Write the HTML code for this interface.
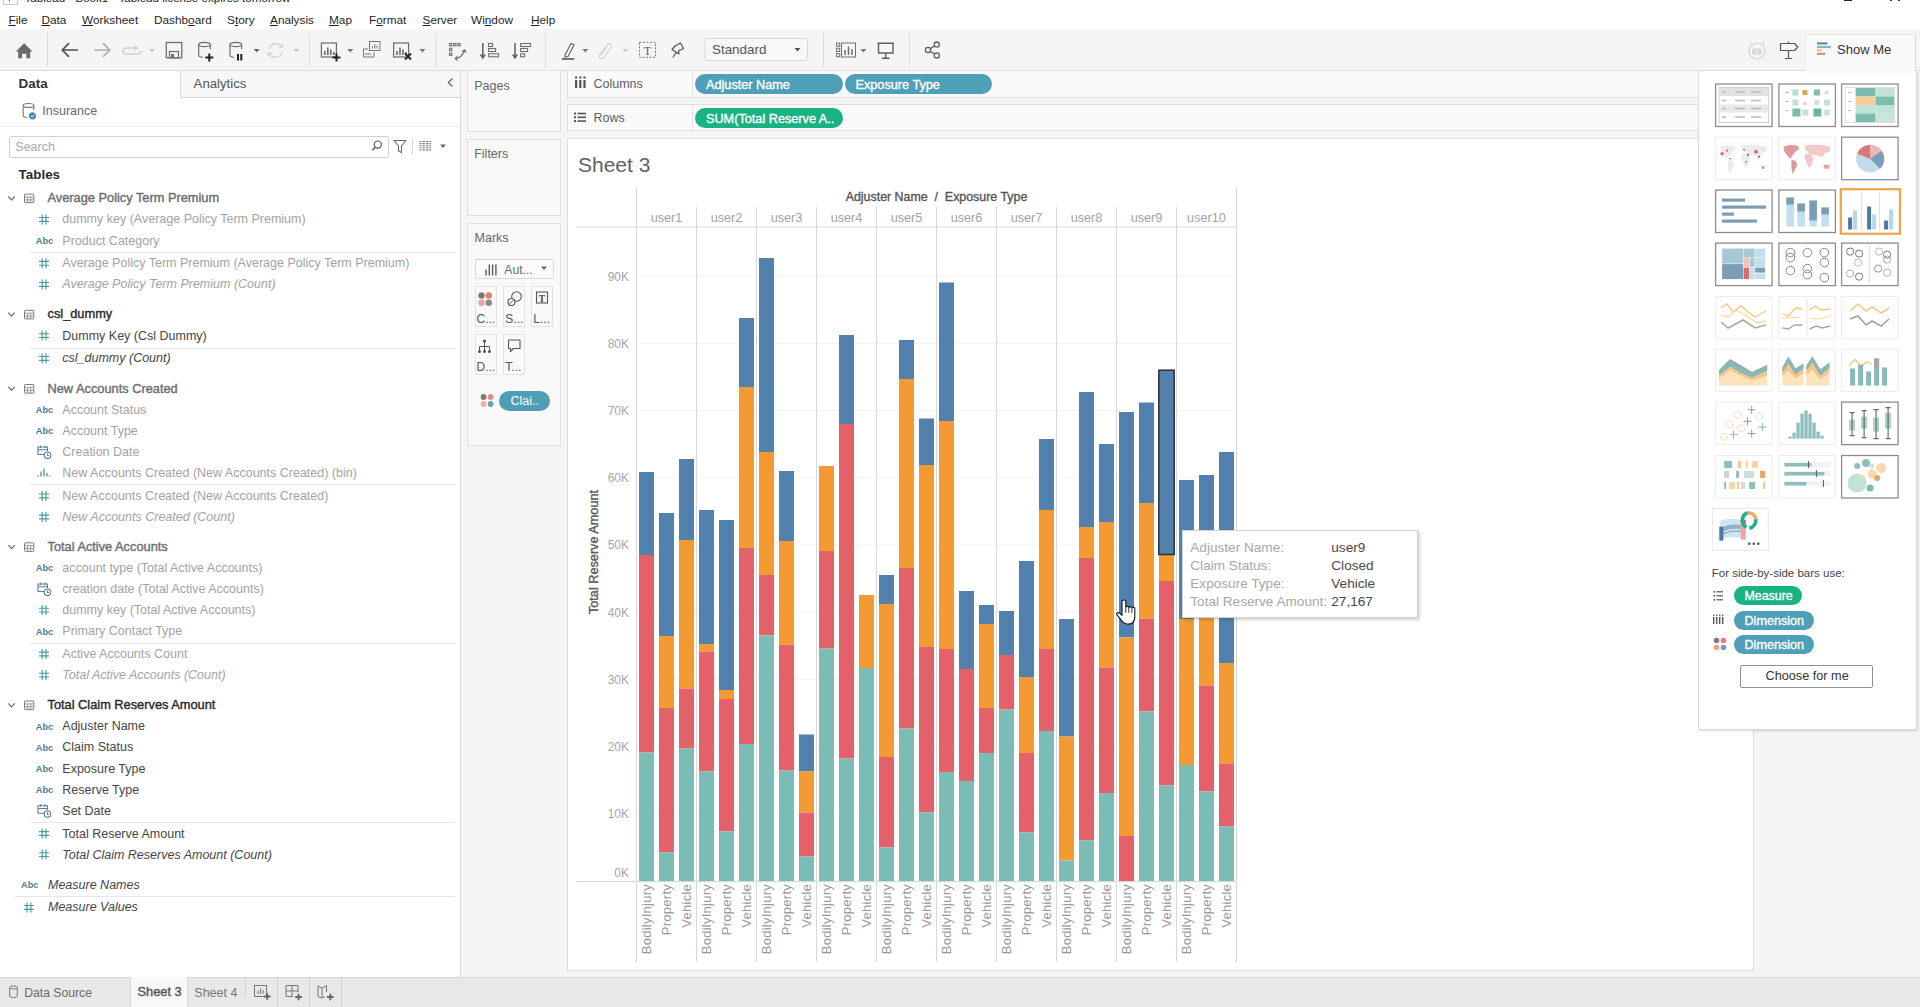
<!DOCTYPE html>
<html><head><meta charset="utf-8"><title>Tableau - Book1</title><style>
*{box-sizing:border-box;margin:0;padding:0}
html,body{width:1920px;height:1007px;overflow:hidden;background:#fff;font-family:"Liberation Sans", Arial, sans-serif;color:#333}
.a{position:absolute;white-space:nowrap}
.t{position:absolute;white-space:nowrap;line-height:1}
svg{position:absolute;overflow:visible}
u{text-decoration:underline;text-underline-offset:1px;text-decoration-thickness:1px}
</style></head>
<body>
<div class="a" style="left:0;top:0;width:1920px;height:29px;background:#fff"></div><div class="t" style="left:24.5px;top:-8.5px;font-size:11.6px;color:#222">Tableau - Book1 - Tableau license expires tomorrow</div><div class="a" style="left:3px;top:-2px;width:15px;height:7px;border:1px solid #c8c8c8;border-top:none"></div><div class="a" style="left:9px;top:0;width:1.2px;height:2px;background:#5a7fa8"></div><div class="a" style="left:1844px;top:0;width:8px;height:1px;background:#222"></div><div class="a" style="left:1890px;top:0;width:1.6px;height:1px;background:#333"></div><div class="a" style="left:1898.3px;top:0;width:1.6px;height:1px;background:#333"></div><div class="t" style="left:8.5px;top:14.7px;font-size:11.8px;color:#1f1f1f"><u>F</u>ile</div><div class="t" style="left:41.5px;top:14.7px;font-size:11.8px;color:#1f1f1f"><u>D</u>ata</div><div class="t" style="left:82px;top:14.7px;font-size:11.8px;color:#1f1f1f"><u>W</u>orksheet</div><div class="t" style="left:154px;top:14.7px;font-size:11.8px;color:#1f1f1f">Dashb<u>o</u>ard</div><div class="t" style="left:227px;top:14.7px;font-size:11.8px;color:#1f1f1f">S<u>t</u>ory</div><div class="t" style="left:270px;top:14.7px;font-size:11.8px;color:#1f1f1f"><u>A</u>nalysis</div><div class="t" style="left:329px;top:14.7px;font-size:11.8px;color:#1f1f1f"><u>M</u>ap</div><div class="t" style="left:369px;top:14.7px;font-size:11.8px;color:#1f1f1f">F<u>o</u>rmat</div><div class="t" style="left:422.5px;top:14.7px;font-size:11.8px;color:#1f1f1f"><u>S</u>erver</div><div class="t" style="left:471px;top:14.7px;font-size:11.8px;color:#1f1f1f">Wi<u>n</u>dow</div><div class="t" style="left:531px;top:14.7px;font-size:11.8px;color:#1f1f1f"><u>H</u>elp</div><div class="a" style="left:0;top:29px;width:1920px;height:42px;background:#f5f5f5;border-bottom:1px solid #dadada"></div><div class="a" style="left:1805px;top:34px;width:111px;height:38px;background:#fafafa;border-top:1px solid #e6e6e6;border-right:1px solid #d8d8d8;border-left:1px solid #ededed"></div><svg style="left:0;top:0" width="1920" height="80" viewBox="0 0 1920 80"><path d="M15.8 51.5 L24.2 43.3 L32.5 51.5 L30.2 51.5 L30.2 58.3 L26.3 58.3 L26.3 53.8 L22.1 53.8 L22.1 58.3 L18.2 58.3 L18.2 51.5 Z" fill="#6a6a6a"/><line x1="47.5" y1="33" x2="47.5" y2="67" stroke="#dcdcdc" stroke-width="1"/><path d="M62.5 50 L78 50 M69 43.2 L62.3 50 L69 56.8" fill="none" stroke="#505050" stroke-width="1.7"/><path d="M94 50 L109.5 50 M103 43.2 L109.7 50 L103 56.8" fill="none" stroke="#b0b0b0" stroke-width="1.7"/><path d="M134 45.5 L137.5 48 L134 50.5 M137 48 L126 48 Q123 48 123 51 Q123 54 126 54 L138 54 Q141 54 141 51" fill="none" stroke="#cfcfcf" stroke-width="1.3"/><path d="M149 49 L155 49 L152 52.5 Z" fill="#c8c8c8"/><rect x="166.3" y="42.5" width="15.5" height="15.3" fill="none" stroke="#6f6f6f" stroke-width="1.3"/><rect x="169.5" y="51.5" width="9" height="6.3" fill="none" stroke="#6f6f6f" stroke-width="1.2"/><rect x="171" y="54" width="3" height="3" fill="#6f6f6f"/><ellipse cx="204.5" cy="44.5" rx="5.8" ry="2.2" fill="none" stroke="#707070" stroke-width="1.2"/><path d="M198.7 44.5 L198.7 55 Q198.7 57 202.5 57.3 M210.3 44.5 L210.3 49" fill="none" stroke="#707070" stroke-width="1.2"/><path d="M205.3 57.5 L213.3 57.5 M209.3 53.5 L209.3 61.5" stroke="#222" stroke-width="2"/><ellipse cx="235.8" cy="44.5" rx="5.8" ry="2.2" fill="none" stroke="#707070" stroke-width="1.2"/><path d="M230.0 44.5 L230.0 55 Q230.0 57 233.8 57.3 M241.60000000000002 44.5 L241.60000000000002 49" fill="none" stroke="#707070" stroke-width="1.2"/><path d="M238 54 L238 60.5 M241.3 54 L241.3 60.5" stroke="#222" stroke-width="2"/><path d="M253.7 49 L259.7 49 L256.7 52.5 Z" fill="#666"/><path d="M269 49 A7 7 0 0 1 282 47.5 M282 47.5 L283.5 44 M282 47.5 L278.5 46.5 M282 51.5 A7 7 0 0 1 268.5 52.5 M268.5 52.5 L267.5 56 M268.5 52.5 L272 53.5" fill="none" stroke="#d0d0d0" stroke-width="1.3"/><path d="M293.3 49 L299.3 49 L296.3 52.5 Z" fill="#c8c8c8"/><line x1="309.7" y1="33" x2="309.7" y2="67" stroke="#dcdcdc" stroke-width="1"/><rect x="321.40000000000003" y="43" width="15" height="14" fill="none" stroke="#6a6a6a" stroke-width="1.2"/><path d="M324.8 55 L324.8 51 M327.8 55 L327.8 47.5 M330.8 55 L330.8 49.5 M333.8 55 L333.8 52" stroke="#6a6a6a" stroke-width="1.6"/><path d="M332.5 57.5 L340.5 57.5 M336.5 53.5 L336.5 61.5" stroke="#222" stroke-width="2"/><path d="M347.3 49 L353.3 49 L350.3 52.5 Z" fill="#777"/><rect x="369.5" y="41.5" width="10.5" height="9" fill="#f5f5f5" stroke="#777" stroke-width="1"/><path d="M372.5 48.5 L372.5 46 M374.8 48.5 L374.8 44 M377 48.5 L377 45.5" stroke="#777" stroke-width="1"/><path d="M368 49 L363.5 49 L363.5 57 L374 57 L374 52" fill="none" stroke="#777" stroke-width="1"/><path d="M366 55 L366 53 M368 55 L368 53 M370 55 L370 53" stroke="#777" stroke-width="1"/><rect x="393.6" y="43" width="15" height="14" fill="none" stroke="#6a6a6a" stroke-width="1.2"/><path d="M397 55 L397 51 M400 55 L400 47.5 M403 55 L403 49.5 M406 55 L406 52" stroke="#6a6a6a" stroke-width="1.6"/><path d="M405 53.5 L411 59.5 M411 53.5 L405 59.5" stroke="#222" stroke-width="1.9"/><path d="M419.5 49 L425.5 49 L422.5 52.5 Z" fill="#777"/><line x1="435.8" y1="33" x2="435.8" y2="67" stroke="#dcdcdc" stroke-width="1"/><g fill="none" stroke="#707070" stroke-width="1.1"><rect x="449.5" y="43.5" width="2.3" height="2.3"/><rect x="453.7" y="43.5" width="2.3" height="2.3"/><rect x="457.9" y="43.5" width="2.3" height="2.3"/><rect x="449.5" y="48.3" width="2.3" height="2.3"/><rect x="449.5" y="53.1" width="2.3" height="2.3"/></g><path d="M455 58.5 Q462 58 464.5 50.5 M462 51.5 L464.8 49.8 L466 52.8 M455 58.5 L457.5 56.5 M455 58.5 L457.5 60.5" fill="none" stroke="#707070" stroke-width="1.2"/><path d="M482.8 43 L482.8 57.5 M480.5 54.5 L482.8 58 L485.1 54.5" fill="none" stroke="#606060" stroke-width="1.5"/><g fill="none" stroke="#707070" stroke-width="1.1"><rect x="488.6" y="43.5" width="4" height="3"/><rect x="488.6" y="48.5" width="7" height="3"/><rect x="488.6" y="53.8" width="10" height="3"/></g><path d="M515 43 L515 57.5 M512.7 54.5 L515 58 L517.3 54.5" fill="none" stroke="#606060" stroke-width="1.5"/><g fill="none" stroke="#707070" stroke-width="1.1"><rect x="520.6" y="43.5" width="10" height="3"/><rect x="520.6" y="48.5" width="7" height="3"/><rect x="520.6" y="53.8" width="4" height="3"/></g><line x1="545.3" y1="33" x2="545.3" y2="67" stroke="#dcdcdc" stroke-width="1"/><path d="M565 55 L571 43.5 L574 45 L568 56.5 L565 57 Z" fill="none" stroke="#606060" stroke-width="1.1"/><path d="M561.8 59 L574.2 59" stroke="#555" stroke-width="1.6"/><path d="M582.3 49 L588.3 49 L585.3 52.5 Z" fill="#777"/><path d="M601 55 L607.5 45 Q609.5 42.5 611 44.5 Q612 46 610.5 48 L604 57.5 Q602 59.5 600 58 Q598.5 56.5 600 54.5 L605.5 47" fill="none" stroke="#d0d0d0" stroke-width="1.1"/><path d="M622.3 49 L628.3 49 L625.3 52.5 Z" fill="#cfcfcf"/><rect x="639.5" y="42.3" width="16" height="15" fill="none" stroke="#777" stroke-width="1" stroke-dasharray="2 1.5"/><text x="647.5" y="54.6" font-size="11.5" text-anchor="middle" fill="#555" font-family="Liberation Serif, serif">T</text><path d="M673 57.5 L676 52.5 M675 46 L680.5 43 L683.5 48.5 L678.5 51 L679 54 L672 49.5 L675 46 Z" fill="none" stroke="#555" stroke-width="1.2" stroke-linejoin="round"/><rect x="705" y="38.5" width="102.5" height="22" rx="2" fill="#f8f8f8" stroke="#d6d6d6" stroke-width="1"/><text x="712" y="54.3" font-size="13.4" fill="#555" font-family="Liberation Sans, Arial, sans-serif">Standard</text><path d="M794.5 48 L800.5 48 L797.5 51.5 Z" fill="#555"/><line x1="823.5" y1="33" x2="823.5" y2="67" stroke="#dcdcdc" stroke-width="1"/><g fill="none" stroke="#707070" stroke-width="1"><rect x="836.5" y="43" width="3.2" height="3.2"/><rect x="836.5" y="48.3" width="3.2" height="3.2"/><rect x="836.5" y="53.6" width="3.2" height="3.2"/><rect x="841.5" y="43" width="14" height="14"/></g><path d="M845 55 L845 50 M848.5 55 L848.5 46.5 M852 55 L852 49" stroke="#707070" stroke-width="1.5"/><path d="M860.4 49 L866.4 49 L863.4 52.5 Z" fill="#777"/><path d="M877.5 43.3 L894 43.3 M878.5 43.3 L878.5 53 L893 53 L893 43.3 M885.7 53 L885.7 58 M882 58.2 L889.5 58.2" fill="none" stroke="#606060" stroke-width="1.4"/><line x1="909.4" y1="33" x2="909.4" y2="67" stroke="#dcdcdc" stroke-width="1"/><g fill="none" stroke="#606060" stroke-width="1.3"><circle cx="928" cy="50" r="2.6"/><circle cx="936.8" cy="44.6" r="2.6"/><circle cx="936.8" cy="55.4" r="2.6"/><path d="M930.3 48.6 L934.5 46 M930.3 51.4 L934.5 54"/></g><g fill="none" stroke="#cfcfcf" stroke-width="1.1"><circle cx="1757" cy="51" r="8"/><path d="M1751 44 L1749.5 41.5 M1763 44 L1764.5 41.5"/><rect x="1752.5" y="49" width="9" height="5" rx="2.5"/><circle cx="1755" cy="51.5" r="1"/><circle cx="1759" cy="51.5" r="1"/></g><path d="M1788.5 41.5 L1788.5 58.5 M1785 58.5 L1792 58.5" fill="none" stroke="#555" stroke-width="1.2"/><path d="M1780.5 43.5 L1794.5 43.5 L1797.8 47 L1794.5 50.5 L1780.5 50.5 Z" fill="#f5f5f5" stroke="#555" stroke-width="1.2" stroke-linejoin="round"/><rect x="1817" y="42.3" width="10.5" height="2.2" fill="#808080"/><rect x="1817" y="45.9" width="14" height="2.2" fill="#7fb6d2"/><rect x="1817" y="49.4" width="4.5" height="1.8" fill="#f3a77a"/><rect x="1817" y="52.7" width="8" height="2.2" fill="#e48080"/></svg><div class="t" style="left:1837px;top:43px;font-size:13px;color:#333">Show Me</div><div class="a" style="left:461px;top:71px;width:1459px;height:906px;background:#f5f5f5"></div><div class="a" style="left:467px;top:70px;width:94px;height:62px;background:#f9f9f9;border:1px solid #e0e0e0"></div><div class="a" style="left:467px;top:138.5px;width:94px;height:77.5px;background:#f9f9f9;border:1px solid #e0e0e0"></div><div class="a" style="left:467px;top:222.5px;width:94px;height:223.5px;background:#f9f9f9;border:1px solid #e0e0e0"></div><div class="t" style="left:474.2px;top:80.00px;font-size:12.5px;color:#666;">Pages</div><div class="t" style="left:474.2px;top:148.20px;font-size:12.5px;color:#666;">Filters</div><div class="t" style="left:474.6px;top:232.20px;font-size:12.5px;color:#666;">Marks</div><div class="a" style="left:474.5px;top:258.5px;width:79px;height:20.5px;background:#fbfbfb;border:1px solid #d8d8d8;border-radius:2px"></div><div class="t" style="left:504.3px;top:264.36px;font-size:12.2px;color:#6a6a6a;">Aut...</div><div class="a" style="left:474.5px;top:286px;width:22px;height:41px;background:#fafafa;border:1px solid #e2e2e2"></div><div class="a" style="left:503.3px;top:286px;width:22px;height:41px;background:#fafafa;border:1px solid #e2e2e2"></div><div class="a" style="left:531.3px;top:286px;width:22px;height:41px;background:#fafafa;border:1px solid #e2e2e2"></div><div class="a" style="left:474.5px;top:334.3px;width:22px;height:41px;background:#fafafa;border:1px solid #e2e2e2"></div><div class="a" style="left:503.3px;top:334.3px;width:22px;height:41px;background:#fafafa;border:1px solid #e2e2e2"></div><div class="t" style="left:476.5px;top:313.46px;font-size:12px;color:#555;">C...</div><div class="t" style="left:505.3px;top:313.46px;font-size:12px;color:#555;">S...</div><div class="t" style="left:533.3px;top:313.46px;font-size:12px;color:#555;">L...</div><div class="t" style="left:476.5px;top:361.06px;font-size:12px;color:#555;">D...</div><div class="t" style="left:505.3px;top:361.06px;font-size:12px;color:#555;">T...</div><div class="a" style="left:499px;top:390.7px;width:50.6px;height:20.2px;border-radius:10px;background:#4f9eb5"></div><div class="t" style="left:510.5px;top:394.80px;font-size:12.5px;color:#fff;">Clai..</div><div class="a" style="left:567px;top:70px;width:1350px;height:28px;background:#fafafa;border:1px solid #dedede"></div><div class="a" style="left:567px;top:104px;width:1350px;height:27px;background:#fafafa;border:1px solid #dedede"></div><div class="a" style="left:692px;top:72px;width:1px;height:25px;background:#e2e2e2"></div><div class="a" style="left:692px;top:105px;width:1px;height:25px;background:#e2e2e2"></div><div class="t" style="left:593.5px;top:78.20px;font-size:12.5px;color:#606060;">Columns</div><div class="t" style="left:593.5px;top:112.00px;font-size:12.5px;color:#606060;">Rows</div><div class="a" style="left:695px;top:74px;width:147.5px;border-radius:10px;height:20px;background:#4f9fb8"></div><div class="a" style="left:845.3px;top:74px;width:147.2px;border-radius:10px;height:20px;background:#4f9fb8"></div><div class="a" style="left:695px;top:108.3px;width:147.5px;border-radius:10px;height:20px;background:#19b383"></div><div class="t" style="left:706px;top:78.60px;font-size:12.7px;color:#fff;-webkit-text-stroke:0.35px #fff">Adjuster Name</div><div class="t" style="left:855.5px;top:78.60px;font-size:12.7px;color:#fff;-webkit-text-stroke:0.35px #fff">Exposure Type</div><div class="t" style="left:706px;top:112.90px;font-size:12.7px;color:#fff;-webkit-text-stroke:0.35px #fff">SUM(Total Reserve A..</div><svg style="left:0;top:0" width="1920" height="500" viewBox="0 0 1920 500"><path d="M486 275.5 L486 269.5 M489.3 275.5 L489.3 264.5 M492.6 275.5 L492.6 264.5 M495.9 275.5 L495.9 264.5" stroke="#5a5a5a" stroke-width="1.4"/><path d="M541 266.5 L547 266.5 L544 270 Z" fill="#666"/><circle cx="481.5" cy="295.5" r="3.2" fill="#7a7a7a"/><circle cx="488.8" cy="295.5" r="3.2" fill="#e77b7b"/><circle cx="481.5" cy="302.8" r="3.2" fill="#f0a0a0"/><circle cx="488.8" cy="302.8" r="3.2" fill="#8a8a8a"/><circle cx="516.5" cy="296.5" r="4.8" fill="none" stroke="#555" stroke-width="1.1"/><circle cx="511.5" cy="302" r="3.5" fill="#fafafa" stroke="#555" stroke-width="1.1"/><path d="M509 304.5 L514 299.5" stroke="#555" stroke-width="1"/><rect x="536.5" y="292" width="11" height="11" fill="none" stroke="#555" stroke-width="1.1"/><text x="542" y="301.5" font-size="9.5" text-anchor="middle" fill="#444" font-family="Liberation Serif, serif" font-weight="bold">T</text><g fill="#555"><circle cx="484.5" cy="341" r="1.6"/><circle cx="479.5" cy="351.5" r="1.5"/><circle cx="484.5" cy="351.5" r="1.5"/><circle cx="489.5" cy="351.5" r="1.5"/></g><path d="M484.5 341 L484.5 351.5 M479.5 351.5 L479.5 346.5 L489.5 346.5 L489.5 351.5" fill="none" stroke="#555" stroke-width="1"/><path d="M508.5 340 L520 340 L520 348.5 L513.5 348.5 L510.5 351.5 L510.5 348.5 L508.5 348.5 Z" fill="none" stroke="#555" stroke-width="1.1" stroke-linejoin="round"/><circle cx="483.6" cy="397" r="2.9" fill="#7d7d7d"/><circle cx="490.6" cy="397" r="2.9" fill="#e98b8b"/><circle cx="483.6" cy="404" r="2.9" fill="#f2b0a0"/><circle cx="490.6" cy="404" r="2.9" fill="#6fa0c0"/><g fill="#555"><rect x="575" y="80" width="2.2" height="8"/><rect x="579.2" y="80" width="2.2" height="8"/><rect x="583.4" y="80" width="2.2" height="8"/><rect x="575" y="76.5" width="2.2" height="2"/><rect x="579.2" y="76.5" width="2.2" height="2"/><rect x="583.4" y="76.5" width="2.2" height="2"/></g><g fill="#555"><rect x="574" y="112.5" width="2" height="2"/><rect x="574" y="116.3" width="2" height="2"/><rect x="574" y="120.1" width="2" height="2"/><rect x="577.5" y="112.7" width="8.5" height="1.6"/><rect x="577.5" y="116.5" width="8.5" height="1.6"/><rect x="577.5" y="120.3" width="8.5" height="1.6"/></g></svg><div class="a" style="left:0;top:71px;width:461px;height:906px;background:#fff;border-right:1px solid #d9d9d9"></div><div class="a" style="left:180px;top:71px;width:280px;height:26.5px;background:#f7f7f7;border-left:1px solid #dadada;border-bottom:1px solid #dadada"></div><div class="t" style="left:18.6px;top:77.03px;font-size:13.4px;color:#333;font-weight:bold">Data</div><div class="t" style="left:193.6px;top:77.14px;font-size:13.2px;color:#555;">Analytics</div><div class="a" style="left:0;top:126px;width:460px;height:1px;background:#ececec"></div><div class="t" style="left:42.3px;top:105.20px;font-size:12.5px;color:#6a6a6a;">Insurance</div><div class="a" style="left:8.5px;top:136px;width:380px;height:22px;border:1px solid #d0d0d0;border-radius:2px;background:#fff"></div><div class="t" style="left:15.3px;top:141.00px;font-size:12.5px;color:#aaa;">Search</div><div class="t" style="left:18.6px;top:168.23px;font-size:13.4px;color:#2b2b2b;font-weight:bold">Tables</div><div class="t" style="left:47.5px;top:192.14px;font-size:12.8px;color:#6e6e6e;-webkit-text-stroke:0.4px #6e6e6e">Average Policy Term Premium</div><div class="t" style="left:62.3px;top:213.40px;font-size:12.5px;color:#a3a3a3;">dummy key (Average Policy Term Premium)</div><div class="t" style="left:62.3px;top:234.50px;font-size:12.5px;color:#a3a3a3;">Product Category</div><div class="a" style="left:30px;top:251.6px;width:425px;height:1px;background:#e6e6e6"></div><div class="t" style="left:62.3px;top:257.30px;font-size:12.5px;color:#a3a3a3;">Average Policy Term Premium (Average Policy Term Premium)</div><div class="t" style="left:62.3px;top:278.40px;font-size:12.5px;color:#a3a3a3;font-style:italic">Average Policy Term Premium (Count)</div><div class="t" style="left:47.5px;top:308.34px;font-size:12.8px;color:#2b2b2b;-webkit-text-stroke:0.4px #2b2b2b">csl_dummy</div><div class="t" style="left:62.3px;top:329.60px;font-size:12.5px;color:#454545;">Dummy Key (Csl Dummy)</div><div class="a" style="left:30px;top:347.6px;width:425px;height:1px;background:#e6e6e6"></div><div class="t" style="left:62.3px;top:352.40px;font-size:12.5px;color:#454545;font-style:italic">csl_dummy (Count)</div><div class="t" style="left:47.5px;top:382.54px;font-size:12.8px;color:#6e6e6e;-webkit-text-stroke:0.4px #6e6e6e">New Accounts Created</div><div class="t" style="left:62.3px;top:403.80px;font-size:12.5px;color:#a3a3a3;">Account Status</div><div class="t" style="left:62.3px;top:424.90px;font-size:12.5px;color:#a3a3a3;">Account Type</div><div class="t" style="left:62.3px;top:446.00px;font-size:12.5px;color:#a3a3a3;">Creation Date</div><div class="t" style="left:62.3px;top:466.60px;font-size:12.5px;color:#a3a3a3;">New Accounts Created (New Accounts Created) (bin)</div><div class="a" style="left:30px;top:484.2px;width:425px;height:1px;background:#e6e6e6"></div><div class="t" style="left:62.3px;top:489.90px;font-size:12.5px;color:#a3a3a3;">New Accounts Created (New Accounts Created)</div><div class="t" style="left:62.3px;top:511.00px;font-size:12.5px;color:#a3a3a3;font-style:italic">New Accounts Created (Count)</div><div class="t" style="left:47.5px;top:540.84px;font-size:12.8px;color:#6e6e6e;-webkit-text-stroke:0.4px #6e6e6e">Total Active Accounts</div><div class="t" style="left:62.3px;top:561.90px;font-size:12.5px;color:#a3a3a3;">account type (Total Active Accounts)</div><div class="t" style="left:62.3px;top:583.00px;font-size:12.5px;color:#a3a3a3;">creation date (Total Active Accounts)</div><div class="t" style="left:62.3px;top:604.10px;font-size:12.5px;color:#a3a3a3;">dummy key (Total Active Accounts)</div><div class="t" style="left:62.3px;top:625.20px;font-size:12.5px;color:#a3a3a3;">Primary Contact Type</div><div class="a" style="left:30px;top:642.5px;width:425px;height:1px;background:#e6e6e6"></div><div class="t" style="left:62.3px;top:648.00px;font-size:12.5px;color:#a3a3a3;">Active Accounts Count</div><div class="t" style="left:62.3px;top:669.10px;font-size:12.5px;color:#a3a3a3;font-style:italic">Total Active Accounts (Count)</div><div class="t" style="left:47.5px;top:699.04px;font-size:12.8px;color:#2b2b2b;-webkit-text-stroke:0.4px #2b2b2b">Total Claim Reserves Amount</div><div class="t" style="left:62.3px;top:720.30px;font-size:12.5px;color:#454545;">Adjuster Name</div><div class="t" style="left:62.3px;top:741.40px;font-size:12.5px;color:#454545;">Claim Status</div><div class="t" style="left:62.3px;top:762.50px;font-size:12.5px;color:#454545;">Exposure Type</div><div class="t" style="left:62.3px;top:783.60px;font-size:12.5px;color:#454545;">Reserve Type</div><div class="t" style="left:62.3px;top:804.70px;font-size:12.5px;color:#454545;">Set Date</div><div class="a" style="left:30px;top:822.3px;width:425px;height:1px;background:#e6e6e6"></div><div class="t" style="left:62.3px;top:827.50px;font-size:12.5px;color:#454545;">Total Reserve Amount</div><div class="t" style="left:62.3px;top:848.60px;font-size:12.5px;color:#454545;font-style:italic">Total Claim Reserves Amount (Count)</div><div class="t" style="left:48px;top:878.70px;font-size:12.5px;color:#454545;font-style:italic">Measure Names</div><div class="a" style="left:15px;top:896px;width:440px;height:1px;background:#e6e6e6"></div><div class="t" style="left:48px;top:901.40px;font-size:12.5px;color:#454545;font-style:italic">Measure Values</div><svg style="left:0;top:0" width="470" height="1000" viewBox="0 0 470 1000"><g fill="none" stroke="#777" stroke-width="1.1"><ellipse cx="28.5" cy="105.5" rx="5.3" ry="2"/><path d="M23.2 105.5 L23.2 115.5 Q23.2 117.3 27 117.5 M33.8 105.5 L33.8 110"/></g><circle cx="32.5" cy="115.8" r="3.6" fill="#4a8ab5"/><path d="M30.8 115.8 L32.1 117.1 L34.3 114.6" fill="none" stroke="#fff" stroke-width="1"/><path d="M452.5 78.5 L448.3 82.5 L452.5 86.5" fill="none" stroke="#666" stroke-width="1.3"/><circle cx="377.8" cy="144.6" r="3.6" fill="none" stroke="#555" stroke-width="1.2"/><path d="M375.2 147.2 L372.3 150.2" stroke="#555" stroke-width="1.4"/><path d="M394 140.5 L406 140.5 L401.5 146 L401.5 152.5 L398.5 151 L398.5 146 Z" fill="none" stroke="#666" stroke-width="1.1" stroke-linejoin="round"/><line x1="412.5" y1="138.5" x2="412.5" y2="154" stroke="#d8d8d8"/><g stroke="#777" stroke-width="1.1"><path d="M419.5 141.5 L421.3 141.5 M422.4 141.5 L424.9 141.5 M426 141.5 L428.4 141.5 M429.4 141.5 L431 141.5"/><path d="M419.5 143.6 L421.3 143.6 M422.4 143.6 L424.9 143.6 M426 143.6 L428.4 143.6 M429.4 143.6 L431 143.6"/><path d="M419.5 145.7 L421.3 145.7 M422.4 145.7 L424.9 145.7 M426 145.7 L428.4 145.7 M429.4 145.7 L431 145.7"/><path d="M419.5 147.8 L421.3 147.8 M422.4 147.8 L424.9 147.8 M426 147.8 L428.4 147.8 M429.4 147.8 L431 147.8"/><path d="M419.5 149.9 L421.3 149.9 M422.4 149.9 L424.9 149.9 M426 149.9 L428.4 149.9 M429.4 149.9 L431 149.9"/></g><path d="M440 144.5 L446 144.5 L443 148 Z" fill="#666"/><path d="M8.3 196.5 L11.5 199.9 L14.7 196.5" fill="none" stroke="#6a6a6a" stroke-width="1.2"/><g fill="none" stroke="#7a7a7a" stroke-width="1"><rect x="24.5" y="194.10000000000002" width="9.3" height="8.6" rx="0.8"/><path d="M24.5 197.0 L33.8 197.0 M24.5 199.9 L33.8 199.9 M27.6 197.0 L27.6 202.70000000000002 M30.7 197.0 L30.7 202.70000000000002" stroke="#999"/></g><path d="M42.2 214.4 L42.2 224.4 M46 214.4 L46 224.4 M39 217.5 L49 217.5 M39 221.3 L49 221.3" stroke="#4a9c9c" stroke-width="1.15"/><text x="35.8" y="243.8" font-size="9.2" font-weight="bold" fill="#4d7c98" font-family="Liberation Sans, Arial, sans-serif">Abc</text><path d="M42.2 258.3 L42.2 268.3 M46 258.3 L46 268.3 M39 261.40000000000003 L49 261.40000000000003 M39 265.2 L49 265.2" stroke="#4a9c9c" stroke-width="1.15"/><path d="M42.2 279.4 L42.2 289.4 M46 279.4 L46 289.4 M39 282.5 L49 282.5 M39 286.29999999999995 L49 286.29999999999995" stroke="#4a9c9c" stroke-width="1.15"/><path d="M8.3 312.7 L11.5 316.1 L14.7 312.7" fill="none" stroke="#6a6a6a" stroke-width="1.2"/><g fill="none" stroke="#7a7a7a" stroke-width="1"><rect x="24.5" y="310.3" width="9.3" height="8.6" rx="0.8"/><path d="M24.5 313.2 L33.8 313.2 M24.5 316.1 L33.8 316.1 M27.6 313.2 L27.6 318.9 M30.7 313.2 L30.7 318.9" stroke="#999"/></g><path d="M42.2 330.6 L42.2 340.6 M46 330.6 L46 340.6 M39 333.70000000000005 L49 333.70000000000005 M39 337.5 L49 337.5" stroke="#4a9c9c" stroke-width="1.15"/><path d="M42.2 353.4 L42.2 363.4 M46 353.4 L46 363.4 M39 356.5 L49 356.5 M39 360.29999999999995 L49 360.29999999999995" stroke="#4a9c9c" stroke-width="1.15"/><path d="M8.3 386.9 L11.5 390.3 L14.7 386.9" fill="none" stroke="#6a6a6a" stroke-width="1.2"/><g fill="none" stroke="#7a7a7a" stroke-width="1"><rect x="24.5" y="384.5" width="9.3" height="8.6" rx="0.8"/><path d="M24.5 387.4 L33.8 387.4 M24.5 390.3 L33.8 390.3 M27.6 387.4 L27.6 393.09999999999997 M30.7 387.4 L30.7 393.09999999999997" stroke="#999"/></g><text x="35.8" y="413.1" font-size="9.2" font-weight="bold" fill="#4d7c98" font-family="Liberation Sans, Arial, sans-serif">Abc</text><text x="35.8" y="434.2" font-size="9.2" font-weight="bold" fill="#4d7c98" font-family="Liberation Sans, Arial, sans-serif">Abc</text><g fill="none" stroke="#5a7f92" stroke-width="1.1"><path d="M46.5 454.5 L38.0 454.5 L38.0 447 L47.5 447 L47.5 451 M38.0 449.8 L47.5 449.8 M40.5 445.5 L40.5 448 M45.0 445.5 L45.0 448"/><circle cx="47.5" cy="455.3" r="3.3" fill="#fff"/><path d="M47.5 453.5 L47.5 455.5 L49.0 455.5"/></g><path d="M38.0 476.6 L38.0 475.1 M41.0 476.6 L41.0 471.6 M44.0 476.6 L44.0 468.6 M47.0 476.6 L47.0 473.1 M49.5 476.6 L49.5 475.6" stroke="#5a8aa5" stroke-width="1.3"/><path d="M42.2 490.9 L42.2 500.9 M46 490.9 L46 500.9 M39 494.0 L49 494.0 M39 497.79999999999995 L49 497.79999999999995" stroke="#4a9c9c" stroke-width="1.15"/><path d="M42.2 512 L42.2 522 M46 512 L46 522 M39 515.1 L49 515.1 M39 518.9 L49 518.9" stroke="#4a9c9c" stroke-width="1.15"/><path d="M8.3 545.2 L11.5 548.6 L14.7 545.2" fill="none" stroke="#6a6a6a" stroke-width="1.2"/><g fill="none" stroke="#7a7a7a" stroke-width="1"><rect x="24.5" y="542.8" width="9.3" height="8.6" rx="0.8"/><path d="M24.5 545.7 L33.8 545.7 M24.5 548.6 L33.8 548.6 M27.6 545.7 L27.6 551.4 M30.7 545.7 L30.7 551.4" stroke="#999"/></g><text x="35.8" y="571.1999999999999" font-size="9.2" font-weight="bold" fill="#4d7c98" font-family="Liberation Sans, Arial, sans-serif">Abc</text><g fill="none" stroke="#5a7f92" stroke-width="1.1"><path d="M46.5 591.5 L38.0 591.5 L38.0 584 L47.5 584 L47.5 588 M38.0 586.8 L47.5 586.8 M40.5 582.5 L40.5 585 M45.0 582.5 L45.0 585"/><circle cx="47.5" cy="592.3" r="3.3" fill="#fff"/><path d="M47.5 590.5 L47.5 592.5 L49.0 592.5"/></g><path d="M42.2 605.1 L42.2 615.1 M46 605.1 L46 615.1 M39 608.2 L49 608.2 M39 612.0 L49 612.0" stroke="#4a9c9c" stroke-width="1.15"/><text x="35.8" y="634.5" font-size="9.2" font-weight="bold" fill="#4d7c98" font-family="Liberation Sans, Arial, sans-serif">Abc</text><path d="M42.2 649 L42.2 659 M46 649 L46 659 M39 652.1 L49 652.1 M39 655.9 L49 655.9" stroke="#4a9c9c" stroke-width="1.15"/><path d="M42.2 670.1 L42.2 680.1 M46 670.1 L46 680.1 M39 673.2 L49 673.2 M39 677.0 L49 677.0" stroke="#4a9c9c" stroke-width="1.15"/><path d="M8.3 703.4000000000001 L11.5 706.8000000000001 L14.7 703.4000000000001" fill="none" stroke="#6a6a6a" stroke-width="1.2"/><g fill="none" stroke="#7a7a7a" stroke-width="1"><rect x="24.5" y="701.0" width="9.3" height="8.6" rx="0.8"/><path d="M24.5 703.9000000000001 L33.8 703.9000000000001 M24.5 706.8000000000001 L33.8 706.8000000000001 M27.6 703.9000000000001 L27.6 709.6 M30.7 703.9000000000001 L30.7 709.6" stroke="#999"/></g><text x="35.8" y="729.5999999999999" font-size="9.2" font-weight="bold" fill="#4d7c98" font-family="Liberation Sans, Arial, sans-serif">Abc</text><text x="35.8" y="750.6999999999999" font-size="9.2" font-weight="bold" fill="#4d7c98" font-family="Liberation Sans, Arial, sans-serif">Abc</text><text x="35.8" y="771.8" font-size="9.2" font-weight="bold" fill="#4d7c98" font-family="Liberation Sans, Arial, sans-serif">Abc</text><text x="35.8" y="792.9" font-size="9.2" font-weight="bold" fill="#4d7c98" font-family="Liberation Sans, Arial, sans-serif">Abc</text><g fill="none" stroke="#5a7f92" stroke-width="1.1"><path d="M46.5 813.2 L38.0 813.2 L38.0 805.7 L47.5 805.7 L47.5 809.7 M38.0 808.5 L47.5 808.5 M40.5 804.2 L40.5 806.7 M45.0 804.2 L45.0 806.7"/><circle cx="47.5" cy="814.0" r="3.3" fill="#fff"/><path d="M47.5 812.2 L47.5 814.2 L49.0 814.2"/></g><path d="M42.2 828.5 L42.2 838.5 M46 828.5 L46 838.5 M39 831.6 L49 831.6 M39 835.4 L49 835.4" stroke="#4a9c9c" stroke-width="1.15"/><path d="M42.2 849.6 L42.2 859.6 M46 849.6 L46 859.6 M39 852.7 L49 852.7 M39 856.5 L49 856.5" stroke="#4a9c9c" stroke-width="1.15"/><text x="21" y="888.0" font-size="9.2" font-weight="bold" fill="#4d7c98" font-family="Liberation Sans, Arial, sans-serif">Abc</text><path d="M27.0 902.4 L27.0 912.4 M30.8 902.4 L30.8 912.4 M23.8 905.5 L33.8 905.5 M23.8 909.3 L33.8 909.3" stroke="#4a9c9c" stroke-width="1.15"/></svg><div class="a" style="left:567px;top:138px;width:1187px;height:832.5px;background:#fff;border:1px solid #dcdcdc"></div><div class="t" style="left:578px;top:154.08px;font-size:21px;color:#626262;">Sheet 3</div><svg style="left:0;top:0" width="1920" height="1007" viewBox="0 0 1920 1007"><line x1="637" y1="813.8" x2="1236" y2="813.8" stroke="#f3f3f3" stroke-width="1"/><line x1="637" y1="746.6" x2="1236" y2="746.6" stroke="#f3f3f3" stroke-width="1"/><line x1="637" y1="679.4" x2="1236" y2="679.4" stroke="#f3f3f3" stroke-width="1"/><line x1="637" y1="612.2" x2="1236" y2="612.2" stroke="#f3f3f3" stroke-width="1"/><line x1="637" y1="545.0" x2="1236" y2="545.0" stroke="#f3f3f3" stroke-width="1"/><line x1="637" y1="477.8" x2="1236" y2="477.8" stroke="#f3f3f3" stroke-width="1"/><line x1="637" y1="410.6" x2="1236" y2="410.6" stroke="#f3f3f3" stroke-width="1"/><line x1="637" y1="343.4" x2="1236" y2="343.4" stroke="#f3f3f3" stroke-width="1"/><line x1="637" y1="276.2" x2="1236" y2="276.2" stroke="#f3f3f3" stroke-width="1"/><rect x="639" y="472" width="15" height="83.0" fill="#5281ae"/><rect x="639" y="555" width="15" height="197.5" fill="#e4616a"/><rect x="639" y="752.5" width="15" height="128.5" fill="#7bbdb6"/><rect x="659" y="513" width="15" height="123.0" fill="#5281ae"/><rect x="659" y="636" width="15" height="72.0" fill="#f39a33"/><rect x="659" y="708" width="15" height="144.5" fill="#e4616a"/><rect x="659" y="852.5" width="15" height="28.5" fill="#7bbdb6"/><rect x="679" y="459" width="15" height="81.0" fill="#5281ae"/><rect x="679" y="540" width="15" height="148.5" fill="#f39a33"/><rect x="679" y="688.5" width="15" height="60.0" fill="#e4616a"/><rect x="679" y="748.5" width="15" height="132.5" fill="#7bbdb6"/><rect x="699" y="510" width="15" height="134.0" fill="#5281ae"/><rect x="699" y="644" width="15" height="7.5" fill="#f39a33"/><rect x="699" y="651.5" width="15" height="120.0" fill="#e4616a"/><rect x="699" y="771.5" width="15" height="109.5" fill="#7bbdb6"/><rect x="719" y="520" width="15" height="170.0" fill="#5281ae"/><rect x="719" y="690" width="15" height="9.0" fill="#f39a33"/><rect x="719" y="699" width="15" height="132.5" fill="#e4616a"/><rect x="719" y="831.5" width="15" height="49.5" fill="#7bbdb6"/><rect x="739" y="318" width="15" height="69.0" fill="#5281ae"/><rect x="739" y="387" width="15" height="161.0" fill="#f39a33"/><rect x="739" y="548" width="15" height="196.0" fill="#e4616a"/><rect x="739" y="744" width="15" height="137.0" fill="#7bbdb6"/><rect x="759" y="258" width="15" height="194.0" fill="#5281ae"/><rect x="759" y="452" width="15" height="123.0" fill="#f39a33"/><rect x="759" y="575" width="15" height="60.5" fill="#e4616a"/><rect x="759" y="635.5" width="15" height="245.5" fill="#7bbdb6"/><rect x="779" y="471" width="15" height="70.0" fill="#5281ae"/><rect x="779" y="541" width="15" height="103.5" fill="#f39a33"/><rect x="779" y="644.5" width="15" height="126.0" fill="#e4616a"/><rect x="779" y="770.5" width="15" height="110.5" fill="#7bbdb6"/><rect x="799" y="734.5" width="15" height="37.0" fill="#5281ae"/><rect x="799" y="771.5" width="15" height="41.0" fill="#f39a33"/><rect x="799" y="812.5" width="15" height="44.0" fill="#e4616a"/><rect x="799" y="856.5" width="15" height="24.5" fill="#7bbdb6"/><rect x="819" y="466" width="15" height="85.0" fill="#f39a33"/><rect x="819" y="551" width="15" height="97.5" fill="#e4616a"/><rect x="819" y="648.5" width="15" height="232.5" fill="#7bbdb6"/><rect x="839" y="335" width="15" height="89.0" fill="#5281ae"/><rect x="839" y="424" width="15" height="334.5" fill="#e4616a"/><rect x="839" y="758.5" width="15" height="122.5" fill="#7bbdb6"/><rect x="859" y="595" width="15" height="73.0" fill="#f39a33"/><rect x="859" y="668" width="15" height="213.0" fill="#7bbdb6"/><rect x="879" y="575" width="15" height="29.0" fill="#5281ae"/><rect x="879" y="604" width="15" height="153.0" fill="#f39a33"/><rect x="879" y="757" width="15" height="90.5" fill="#e4616a"/><rect x="879" y="847.5" width="15" height="33.5" fill="#7bbdb6"/><rect x="899" y="340" width="15" height="39.0" fill="#5281ae"/><rect x="899" y="379" width="15" height="189.0" fill="#f39a33"/><rect x="899" y="568" width="15" height="160.5" fill="#e4616a"/><rect x="899" y="728.5" width="15" height="152.5" fill="#7bbdb6"/><rect x="919" y="418.5" width="15" height="46.5" fill="#5281ae"/><rect x="919" y="465" width="15" height="182.0" fill="#f39a33"/><rect x="919" y="647" width="15" height="165.5" fill="#e4616a"/><rect x="919" y="812.5" width="15" height="68.5" fill="#7bbdb6"/><rect x="939" y="282.5" width="15" height="138.5" fill="#5281ae"/><rect x="939" y="421" width="15" height="228.0" fill="#f39a33"/><rect x="939" y="649" width="15" height="123.0" fill="#e4616a"/><rect x="939" y="772" width="15" height="109.0" fill="#7bbdb6"/><rect x="959" y="591" width="15" height="78.0" fill="#5281ae"/><rect x="959" y="669" width="15" height="112.0" fill="#e4616a"/><rect x="959" y="781" width="15" height="100.0" fill="#7bbdb6"/><rect x="979" y="605" width="15" height="19.0" fill="#5281ae"/><rect x="979" y="624" width="15" height="84.0" fill="#f39a33"/><rect x="979" y="708" width="15" height="45.0" fill="#e4616a"/><rect x="979" y="753" width="15" height="128.0" fill="#7bbdb6"/><rect x="999" y="611" width="15" height="44.0" fill="#5281ae"/><rect x="999" y="655" width="15" height="54.5" fill="#e4616a"/><rect x="999" y="709.5" width="15" height="171.5" fill="#7bbdb6"/><rect x="1019" y="561" width="15" height="116.0" fill="#5281ae"/><rect x="1019" y="677" width="15" height="76.0" fill="#f39a33"/><rect x="1019" y="753" width="15" height="79.5" fill="#e4616a"/><rect x="1019" y="832.5" width="15" height="48.5" fill="#7bbdb6"/><rect x="1039" y="439" width="15" height="71.0" fill="#5281ae"/><rect x="1039" y="510" width="15" height="139.0" fill="#f39a33"/><rect x="1039" y="649" width="15" height="82.0" fill="#e4616a"/><rect x="1039" y="731" width="15" height="150.0" fill="#7bbdb6"/><rect x="1059" y="619" width="15" height="117.5" fill="#5281ae"/><rect x="1059" y="736.5" width="15" height="124.0" fill="#f39a33"/><rect x="1059" y="860.5" width="15" height="20.5" fill="#7bbdb6"/><rect x="1079" y="392" width="15" height="135.0" fill="#5281ae"/><rect x="1079" y="527" width="15" height="31.0" fill="#f39a33"/><rect x="1079" y="558" width="15" height="282.5" fill="#e4616a"/><rect x="1079" y="840.5" width="15" height="40.5" fill="#7bbdb6"/><rect x="1099" y="444" width="15" height="78.0" fill="#5281ae"/><rect x="1099" y="522" width="15" height="145.5" fill="#f39a33"/><rect x="1099" y="667.5" width="15" height="125.5" fill="#e4616a"/><rect x="1099" y="793" width="15" height="88.0" fill="#7bbdb6"/><rect x="1119" y="412" width="15" height="225.5" fill="#5281ae"/><rect x="1119" y="637.5" width="15" height="198.5" fill="#f39a33"/><rect x="1119" y="836" width="15" height="45.0" fill="#e4616a"/><rect x="1139" y="402.5" width="15" height="100.5" fill="#5281ae"/><rect x="1139" y="503" width="15" height="115.5" fill="#f39a33"/><rect x="1139" y="618.5" width="15" height="93.0" fill="#e4616a"/><rect x="1139" y="711.5" width="15" height="169.5" fill="#7bbdb6"/><rect x="1159" y="370" width="15" height="184.5" fill="#5281ae"/><rect x="1159" y="554.5" width="15" height="26.5" fill="#f39a33"/><rect x="1159" y="581" width="15" height="204.5" fill="#e4616a"/><rect x="1159" y="785.5" width="15" height="95.5" fill="#7bbdb6"/><rect x="1179" y="480" width="15" height="139.0" fill="#5281ae"/><rect x="1179" y="619" width="15" height="146.0" fill="#f39a33"/><rect x="1179" y="765" width="15" height="116.0" fill="#7bbdb6"/><rect x="1199" y="475" width="15" height="117.0" fill="#5281ae"/><rect x="1199" y="592" width="15" height="93.5" fill="#f39a33"/><rect x="1199" y="685.5" width="15" height="106.0" fill="#e4616a"/><rect x="1199" y="791.5" width="15" height="89.5" fill="#7bbdb6"/><rect x="1219" y="452" width="15" height="211.0" fill="#5281ae"/><rect x="1219" y="663" width="15" height="100.5" fill="#f39a33"/><rect x="1219" y="763.5" width="15" height="63.0" fill="#e4616a"/><rect x="1219" y="826.5" width="15" height="54.5" fill="#7bbdb6"/><rect x="1158.8" y="370.2" width="15.4" height="184.3" fill="none" stroke="#2f2f2f" stroke-width="1.5"/><line x1="636.5" y1="187" x2="636.5" y2="962" stroke="#d6d6d6"/><line x1="1236.5" y1="187" x2="1236.5" y2="962" stroke="#d6d6d6"/><line x1="696.5" y1="207" x2="696.5" y2="962" stroke="#d9d9d9"/><line x1="756.5" y1="207" x2="756.5" y2="962" stroke="#d9d9d9"/><line x1="816.5" y1="207" x2="816.5" y2="962" stroke="#d9d9d9"/><line x1="876.5" y1="207" x2="876.5" y2="962" stroke="#d9d9d9"/><line x1="936.5" y1="207" x2="936.5" y2="962" stroke="#d9d9d9"/><line x1="996.5" y1="207" x2="996.5" y2="962" stroke="#d9d9d9"/><line x1="1056.5" y1="207" x2="1056.5" y2="962" stroke="#d9d9d9"/><line x1="1116.5" y1="207" x2="1116.5" y2="962" stroke="#d9d9d9"/><line x1="1176.5" y1="207" x2="1176.5" y2="962" stroke="#d9d9d9"/><line x1="576.5" y1="227" x2="1236.5" y2="227" stroke="#d9d9d9"/><line x1="576.5" y1="881.5" x2="1236.5" y2="881.5" stroke="#d9d9d9"/><text x="936.5" y="201.3" font-size="12.4" fill="#555" stroke="#555" stroke-width="0.35" text-anchor="middle" font-family="Liberation Sans, Arial, sans-serif" style="white-space:pre">Adjuster Name  /  Exposure Type</text><text x="666.5" y="221.5" font-size="12.7" fill="#a3a3a3" text-anchor="middle" font-family="Liberation Sans, Arial, sans-serif">user1</text><text x="726.5" y="221.5" font-size="12.7" fill="#a3a3a3" text-anchor="middle" font-family="Liberation Sans, Arial, sans-serif">user2</text><text x="786.5" y="221.5" font-size="12.7" fill="#a3a3a3" text-anchor="middle" font-family="Liberation Sans, Arial, sans-serif">user3</text><text x="846.5" y="221.5" font-size="12.7" fill="#a3a3a3" text-anchor="middle" font-family="Liberation Sans, Arial, sans-serif">user4</text><text x="906.5" y="221.5" font-size="12.7" fill="#a3a3a3" text-anchor="middle" font-family="Liberation Sans, Arial, sans-serif">user5</text><text x="966.5" y="221.5" font-size="12.7" fill="#a3a3a3" text-anchor="middle" font-family="Liberation Sans, Arial, sans-serif">user6</text><text x="1026.5" y="221.5" font-size="12.7" fill="#a3a3a3" text-anchor="middle" font-family="Liberation Sans, Arial, sans-serif">user7</text><text x="1086.5" y="221.5" font-size="12.7" fill="#a3a3a3" text-anchor="middle" font-family="Liberation Sans, Arial, sans-serif">user8</text><text x="1146.5" y="221.5" font-size="12.7" fill="#a3a3a3" text-anchor="middle" font-family="Liberation Sans, Arial, sans-serif">user9</text><text x="1206.5" y="221.5" font-size="12.7" fill="#a3a3a3" text-anchor="middle" font-family="Liberation Sans, Arial, sans-serif">user10</text><text x="629" y="876.8" font-size="12" fill="#a5a5a5" text-anchor="end" font-family="Liberation Sans, Arial, sans-serif">0K</text><text x="629" y="818.1" font-size="12" fill="#a5a5a5" text-anchor="end" font-family="Liberation Sans, Arial, sans-serif">10K</text><text x="629" y="750.9" font-size="12" fill="#a5a5a5" text-anchor="end" font-family="Liberation Sans, Arial, sans-serif">20K</text><text x="629" y="683.7" font-size="12" fill="#a5a5a5" text-anchor="end" font-family="Liberation Sans, Arial, sans-serif">30K</text><text x="629" y="616.5" font-size="12" fill="#a5a5a5" text-anchor="end" font-family="Liberation Sans, Arial, sans-serif">40K</text><text x="629" y="549.3" font-size="12" fill="#a5a5a5" text-anchor="end" font-family="Liberation Sans, Arial, sans-serif">50K</text><text x="629" y="482.1" font-size="12" fill="#a5a5a5" text-anchor="end" font-family="Liberation Sans, Arial, sans-serif">60K</text><text x="629" y="414.9" font-size="12" fill="#a5a5a5" text-anchor="end" font-family="Liberation Sans, Arial, sans-serif">70K</text><text x="629" y="347.7" font-size="12" fill="#a5a5a5" text-anchor="end" font-family="Liberation Sans, Arial, sans-serif">80K</text><text x="629" y="280.5" font-size="12" fill="#a5a5a5" text-anchor="end" font-family="Liberation Sans, Arial, sans-serif">90K</text><text transform="translate(597.5,552) rotate(-90)" font-size="12.7" fill="#5a5a5a" stroke="#5a5a5a" stroke-width="0.35" text-anchor="middle" font-family="Liberation Sans, Arial, sans-serif">Total Reserve Amount</text><text transform="translate(651.1,884) rotate(-90)" font-size="13" letter-spacing="0.25" fill="#999" text-anchor="end" font-family="Liberation Sans, Arial, sans-serif">BodilyInjury</text><text transform="translate(671.1,884) rotate(-90)" font-size="13" letter-spacing="0.25" fill="#999" text-anchor="end" font-family="Liberation Sans, Arial, sans-serif">Property</text><text transform="translate(691.1,884) rotate(-90)" font-size="13" letter-spacing="0.25" fill="#999" text-anchor="end" font-family="Liberation Sans, Arial, sans-serif">Vehicle</text><text transform="translate(711.1,884) rotate(-90)" font-size="13" letter-spacing="0.25" fill="#999" text-anchor="end" font-family="Liberation Sans, Arial, sans-serif">BodilyInjury</text><text transform="translate(731.1,884) rotate(-90)" font-size="13" letter-spacing="0.25" fill="#999" text-anchor="end" font-family="Liberation Sans, Arial, sans-serif">Property</text><text transform="translate(751.1,884) rotate(-90)" font-size="13" letter-spacing="0.25" fill="#999" text-anchor="end" font-family="Liberation Sans, Arial, sans-serif">Vehicle</text><text transform="translate(771.1,884) rotate(-90)" font-size="13" letter-spacing="0.25" fill="#999" text-anchor="end" font-family="Liberation Sans, Arial, sans-serif">BodilyInjury</text><text transform="translate(791.1,884) rotate(-90)" font-size="13" letter-spacing="0.25" fill="#999" text-anchor="end" font-family="Liberation Sans, Arial, sans-serif">Property</text><text transform="translate(811.1,884) rotate(-90)" font-size="13" letter-spacing="0.25" fill="#999" text-anchor="end" font-family="Liberation Sans, Arial, sans-serif">Vehicle</text><text transform="translate(831.1,884) rotate(-90)" font-size="13" letter-spacing="0.25" fill="#999" text-anchor="end" font-family="Liberation Sans, Arial, sans-serif">BodilyInjury</text><text transform="translate(851.1,884) rotate(-90)" font-size="13" letter-spacing="0.25" fill="#999" text-anchor="end" font-family="Liberation Sans, Arial, sans-serif">Property</text><text transform="translate(871.1,884) rotate(-90)" font-size="13" letter-spacing="0.25" fill="#999" text-anchor="end" font-family="Liberation Sans, Arial, sans-serif">Vehicle</text><text transform="translate(891.1,884) rotate(-90)" font-size="13" letter-spacing="0.25" fill="#999" text-anchor="end" font-family="Liberation Sans, Arial, sans-serif">BodilyInjury</text><text transform="translate(911.1,884) rotate(-90)" font-size="13" letter-spacing="0.25" fill="#999" text-anchor="end" font-family="Liberation Sans, Arial, sans-serif">Property</text><text transform="translate(931.1,884) rotate(-90)" font-size="13" letter-spacing="0.25" fill="#999" text-anchor="end" font-family="Liberation Sans, Arial, sans-serif">Vehicle</text><text transform="translate(951.1,884) rotate(-90)" font-size="13" letter-spacing="0.25" fill="#999" text-anchor="end" font-family="Liberation Sans, Arial, sans-serif">BodilyInjury</text><text transform="translate(971.1,884) rotate(-90)" font-size="13" letter-spacing="0.25" fill="#999" text-anchor="end" font-family="Liberation Sans, Arial, sans-serif">Property</text><text transform="translate(991.1,884) rotate(-90)" font-size="13" letter-spacing="0.25" fill="#999" text-anchor="end" font-family="Liberation Sans, Arial, sans-serif">Vehicle</text><text transform="translate(1011.1,884) rotate(-90)" font-size="13" letter-spacing="0.25" fill="#999" text-anchor="end" font-family="Liberation Sans, Arial, sans-serif">BodilyInjury</text><text transform="translate(1031.1,884) rotate(-90)" font-size="13" letter-spacing="0.25" fill="#999" text-anchor="end" font-family="Liberation Sans, Arial, sans-serif">Property</text><text transform="translate(1051.1,884) rotate(-90)" font-size="13" letter-spacing="0.25" fill="#999" text-anchor="end" font-family="Liberation Sans, Arial, sans-serif">Vehicle</text><text transform="translate(1071.1,884) rotate(-90)" font-size="13" letter-spacing="0.25" fill="#999" text-anchor="end" font-family="Liberation Sans, Arial, sans-serif">BodilyInjury</text><text transform="translate(1091.1,884) rotate(-90)" font-size="13" letter-spacing="0.25" fill="#999" text-anchor="end" font-family="Liberation Sans, Arial, sans-serif">Property</text><text transform="translate(1111.1,884) rotate(-90)" font-size="13" letter-spacing="0.25" fill="#999" text-anchor="end" font-family="Liberation Sans, Arial, sans-serif">Vehicle</text><text transform="translate(1131.1,884) rotate(-90)" font-size="13" letter-spacing="0.25" fill="#999" text-anchor="end" font-family="Liberation Sans, Arial, sans-serif">BodilyInjury</text><text transform="translate(1151.1,884) rotate(-90)" font-size="13" letter-spacing="0.25" fill="#999" text-anchor="end" font-family="Liberation Sans, Arial, sans-serif">Property</text><text transform="translate(1171.1,884) rotate(-90)" font-size="13" letter-spacing="0.25" fill="#999" text-anchor="end" font-family="Liberation Sans, Arial, sans-serif">Vehicle</text><text transform="translate(1191.1,884) rotate(-90)" font-size="13" letter-spacing="0.25" fill="#999" text-anchor="end" font-family="Liberation Sans, Arial, sans-serif">BodilyInjury</text><text transform="translate(1211.1,884) rotate(-90)" font-size="13" letter-spacing="0.25" fill="#999" text-anchor="end" font-family="Liberation Sans, Arial, sans-serif">Property</text><text transform="translate(1231.1,884) rotate(-90)" font-size="13" letter-spacing="0.25" fill="#999" text-anchor="end" font-family="Liberation Sans, Arial, sans-serif">Vehicle</text></svg><div class="a" style="left:1181.5px;top:530px;width:236.5px;height:88px;background:#fff;border:1px solid #d4d4d4;box-shadow:2px 2px 3px rgba(0,0,0,0.18)"></div><div class="t" style="left:1190.3px;top:541.13px;font-size:13.6px;color:#a8a8a8;">Adjuster Name:</div><div class="t" style="left:1331.3px;top:541.13px;font-size:13.6px;color:#484848;">user9</div><div class="t" style="left:1190.3px;top:559.43px;font-size:13.6px;color:#a8a8a8;">Claim Status:</div><div class="t" style="left:1331.3px;top:559.43px;font-size:13.6px;color:#484848;">Closed</div><div class="t" style="left:1190.3px;top:577.33px;font-size:13.6px;color:#a8a8a8;">Exposure Type:</div><div class="t" style="left:1331.3px;top:577.33px;font-size:13.6px;color:#484848;">Vehicle</div><div class="t" style="left:1190.3px;top:595.13px;font-size:13.6px;color:#a8a8a8;">Total Reserve Amount:</div><div class="t" style="left:1331.3px;top:595.13px;font-size:13.6px;color:#484848;">27,167</div><svg style="left:1114px;top:596px" width="24" height="30" viewBox="0 0 24 30"><path d="M8 5.2 Q8 4 9.9 4 Q11.8 4 11.8 5.2 L11.8 11 Q12 10.3 13.3 10.3 Q14.7 10.3 14.8 11.2 Q15.1 10.6 16.4 10.6 Q17.8 10.7 17.9 11.6 Q18.3 11.1 19.5 11.2 Q20.8 11.4 20.8 12.6 L20.8 21 Q20.8 25 18 27.3 Q15 28.6 12 27.8 Q9.5 27 7.6 24.6 L2.9 18.6 Q2.2 17.2 3.5 16.7 Q5 16.3 8 19.3 Z" fill="#fff" stroke="#151515" stroke-width="1.1" stroke-linejoin="round"/><path d="M11.8 11 L11.8 16.8 M14.8 11.2 L14.8 16.8 M17.9 11.6 L17.9 16.8" stroke="#151515" stroke-width="0.9"/></svg><div class="a" style="left:1697.5px;top:71px;width:219px;height:658.5px;background:#fff;border:1px solid #dadada;border-top:none;box-shadow:1px 1px 2px rgba(0,0,0,0.15)"></div><div class="a" style="left:1806px;top:70px;width:109px;height:3px;background:#f9f9f9"></div><svg style="left:0;top:0" width="1920" height="1007" viewBox="0 0 1920 1007"><rect x="1715.6" y="84.0" width="56.5" height="42.5" fill="#fff" stroke="#8d8d8d" stroke-width="1.3"/><g transform="translate(1715.1,83.5)"><rect x="4" y="4" width="49.5" height="35" fill="#fff" stroke="#d0d0d0"/><rect x="4.5" y="4.5" width="48.5" height="8" fill="#e2e2e2"/><rect x="4.5" y="21" width="48.5" height="8" fill="#e8e8e8"/><path d="M7 8.5 L11 8.5 M20 8.5 L30 8.5 M36 8.5 L46 8.5" stroke="#bbb" stroke-width="1.3"/><path d="M7 17 L11 17 M20 17 L30 17 M36 17 L46 17" stroke="#bbb" stroke-width="1.3"/><path d="M7 25 L11 25 M20 25 L30 25 M36 25 L46 25" stroke="#bbb" stroke-width="1.3"/><path d="M7 33.5 L11 33.5 M20 33.5 L30 33.5 M36 33.5 L46 33.5" stroke="#bbb" stroke-width="1.3"/></g><rect x="1778.9" y="84.0" width="56.5" height="42.5" fill="#fff" stroke="#8d8d8d" stroke-width="1.3"/><g transform="translate(1778.4,83.5)"><path d="M7 9 L10.5 9 M7 18 L10.5 18 M7 27 L10 27" stroke="#bbb" stroke-width="1.2"/><rect x="14" y="6.0" width="6" height="6" fill="#b9e0d2"/><rect x="24" y="6.5" width="5" height="5" fill="#e8a352"/><rect x="35.5" y="6.0" width="6" height="6" fill="#7dbcad"/><rect x="46" y="7.0" width="4" height="4" fill="#dcdcdc"/><rect x="14" y="16.0" width="6" height="6" fill="#bfe3d6"/><rect x="25" y="18.5" width="3" height="3" fill="#f5c4c4"/><rect x="36" y="16.5" width="5" height="5" fill="#c6e6da"/><rect x="45.5" y="16.0" width="6" height="6" fill="#bde3d5"/><rect x="14" y="25.0" width="8" height="8" fill="#7dbcad"/><rect x="24" y="26.0" width="6" height="6" fill="#bfe3d6"/><rect x="35" y="25.0" width="8" height="8" fill="#6fb3a3"/><rect x="45.5" y="26.0" width="6" height="6" fill="#c6e6da"/></g><rect x="1841.6" y="84.0" width="56.5" height="42.5" fill="#fff" stroke="#8d8d8d" stroke-width="1.3"/><g transform="translate(1841.1,83.5)"><rect x="4" y="4" width="49.5" height="35" fill="#fff" stroke="#ddd"/><path d="M7 9 L10.5 9 M7 18 L10.5 18 M7 27 L10 27" stroke="#bbb" stroke-width="1.2"/><rect x="14.5" y="4.5" width="20" height="8.5" fill="#7dbcad"/><rect x="34.5" y="4.5" width="18.5" height="8.5" fill="#bfe3d6"/><rect x="14.5" y="13" width="20" height="8.5" fill="#f8cd98"/><rect x="34.5" y="13" width="18.5" height="8.5" fill="#7dbcad"/><rect x="14.5" y="21.5" width="20" height="8.5" fill="#bfe3d6"/><rect x="34.5" y="21.5" width="18.5" height="8.5" fill="#bfe3d6"/><rect x="14.5" y="30" width="20" height="8.5" fill="#7dbcad"/><rect x="34.5" y="30" width="18.5" height="8.5" fill="#c6e6da"/></g><rect x="1715.6" y="137.2" width="56.5" height="42.5" fill="#fff" stroke="#ececec" stroke-width="1"/><g transform="translate(1715.1,136.7)"><path d="M5 10 L12 8 L19 9 L21 12 L17 15 L14 19 L12 22 L9 19 L6 15 Z M13 23 L17 24 L19 28 L16 34 L14 37 L13 31 Z M26 9 L33 8 L42 8 L52 10 L51 15 L46 17 L44 21 L40 19 L35 18 L30 16 L27 13 Z M27 17 L33 17 L35 22 L33 29 L30 31 L28 25 L26 21 Z M45 28 L51 28 L51 32 L46 32 Z" fill="#ececec"/><circle cx="7" cy="17" r="1.8" fill="#d46f6f"/><circle cx="12" cy="14" r="1.1" fill="#d46f6f"/><circle cx="15" cy="22" r="0.9" fill="#d46f6f"/><circle cx="29" cy="13" r="1" fill="#d46f6f"/><circle cx="33" cy="18" r="1.3" fill="#d46f6f"/><circle cx="41" cy="15" r="1.9" fill="#d46f6f"/><circle cx="44" cy="20" r="1.2" fill="#d46f6f"/><circle cx="48" cy="31" r="1.1" fill="#d46f6f"/><circle cx="31" cy="25" r="0.9" fill="#d46f6f"/></g><rect x="1778.9" y="137.2" width="56.5" height="42.5" fill="#fff" stroke="#ececec" stroke-width="1"/><g transform="translate(1778.4,136.7)"><path d="M5 10 L12 8 L19 9 L21 12 L17 15 L14 19 L12 22 L9 19 L6 15 Z M13 23 L17 24 L19 28 L16 34 L14 37 L13 31 Z" fill="#e09898"/><path d="M26 9 L33 8 L42 8 L52 10 L51 15 L46 17 L44 21 L40 19 L35 18 L30 16 L27 13 Z M27 17 L33 17 L35 22 L33 29 L30 31 L28 25 L26 21 Z" fill="#f5c8c8"/><path d="M45 28 L51 28 L51 32 L46 32 Z" fill="#e8a4a4"/></g><rect x="1841.6" y="137.2" width="56.5" height="42.5" fill="#fff" stroke="#8d8d8d" stroke-width="1.3"/><g transform="translate(1841.1,136.7)"><circle cx="29" cy="22" r="14" fill="#c3dce9"/><path d="M29 22 L29 8 A14 14 0 0 1 40.5 14 Z" fill="#f0b8b8"/><path d="M29 22 L16 17 A14 14 0 0 1 29 8 Z" fill="#d97a7a"/><path d="M29 22 L40.5 14 A14 14 0 0 1 39 32 Z" fill="#7b9db8"/></g><rect x="1715.6" y="190.0" width="56.5" height="42.5" fill="#fff" stroke="#8d8d8d" stroke-width="1.3"/><g transform="translate(1715.1,189.5)"><rect x="7" y="9" width="23" height="3.2" fill="#7d9db6"/><rect x="7" y="16" width="44" height="3.2" fill="#7d9db6"/><rect x="7" y="23" width="12" height="3.2" fill="#7d9db6"/><rect x="7" y="30" width="35" height="3.2" fill="#7d9db6"/></g><rect x="1778.9" y="190.0" width="56.5" height="42.5" fill="#fff" stroke="#8d8d8d" stroke-width="1.3"/><g transform="translate(1778.4,189.5)"><rect x="8" y="8" width="7.5" height="29" fill="#c3deea"/><rect x="8" y="8" width="7.5" height="7" fill="#7d9db6"/><rect x="19" y="14" width="7.5" height="23" fill="#c3deea"/><rect x="19" y="14" width="7.5" height="8" fill="#7d9db6"/><rect x="31" y="11" width="7.5" height="26" fill="#c3deea"/><rect x="31" y="11" width="7.5" height="20" fill="#7d9db6"/><rect x="43" y="18" width="7.5" height="19" fill="#c3deea"/><rect x="43" y="18" width="7.5" height="7" fill="#7d9db6"/></g><rect x="1840.8" y="189.2" width="59.1" height="44.5" fill="#fff" stroke="#f0a24a" stroke-width="2.2"/><g transform="translate(1841.1,189.5)"><path d="M20.5 3 L20.5 41 M38.5 3 L38.5 41" stroke="#ddd"/><rect x="7" y="28" width="4" height="12" fill="#4e79a7"/><rect x="12" y="21" width="4" height="19" fill="#b7d6e6"/><rect x="26" y="17" width="4" height="23" fill="#4e79a7"/><rect x="31" y="25" width="4" height="15" fill="#b7d6e6"/><rect x="43" y="31" width="4" height="9" fill="#4e79a7"/><rect x="48" y="20" width="4" height="20" fill="#b7d6e6"/></g><rect x="1715.6" y="243.1" width="56.5" height="42.5" fill="#fff" stroke="#8d8d8d" stroke-width="1.3"/><g transform="translate(1715.1,242.6)"><rect x="7" y="6" width="21" height="15" fill="#a6c8d2"/><rect x="7" y="21.5" width="21" height="15" fill="#7d9db6"/><rect x="28.5" y="6" width="11" height="9" fill="#a6c8d2"/><rect x="40" y="6" width="10" height="9" fill="#c3deea"/><rect x="28.5" y="15.5" width="5.5" height="9" fill="#f6c0c0"/><rect x="34.5" y="15.5" width="5" height="9" fill="#a6c8d2"/><rect x="40" y="15.5" width="10" height="9" fill="#c3deea"/><rect x="28.5" y="25" width="5.5" height="11.5" fill="#e06a6a"/><rect x="34.5" y="25" width="5" height="11.5" fill="#c3deea"/><rect x="40" y="25" width="10" height="5" fill="#7d9db6"/><rect x="40" y="31" width="10" height="5.5" fill="#c3deea"/></g><rect x="1778.9" y="243.1" width="56.5" height="42.5" fill="#fff" stroke="#8d8d8d" stroke-width="1.3"/><g transform="translate(1778.4,242.6)"><circle cx="12" cy="10" r="4.3" fill="none" stroke="#8a8a8a" stroke-width="1"/><circle cx="12" cy="15" r="4.3" fill="none" stroke="#8a8a8a" stroke-width="1"/><circle cx="29" cy="10" r="4.3" fill="none" stroke="#8a8a8a" stroke-width="1"/><circle cx="46" cy="10" r="4.3" fill="none" stroke="#8a8a8a" stroke-width="1"/><circle cx="12" cy="28" r="4.3" fill="none" stroke="#8a8a8a" stroke-width="1"/><circle cx="29" cy="26" r="4.3" fill="none" stroke="#8a8a8a" stroke-width="1"/><circle cx="29" cy="32" r="4.3" fill="none" stroke="#8a8a8a" stroke-width="1"/><circle cx="46" cy="20" r="4.3" fill="none" stroke="#8a8a8a" stroke-width="1"/><circle cx="46" cy="35" r="4.3" fill="none" stroke="#8a8a8a" stroke-width="1"/></g><rect x="1841.6" y="243.1" width="56.5" height="42.5" fill="#fff" stroke="#8d8d8d" stroke-width="1.3"/><g transform="translate(1841.1,242.6)"><path d="M28.5 3 L28.5 40" stroke="#ddd"/><circle cx="9" cy="9" r="3.6" fill="none" stroke="#777" stroke-width="1"/><circle cx="18" cy="11" r="3.6" fill="none" stroke="#777" stroke-width="1"/><circle cx="17" cy="20" r="3.6" fill="none" stroke="#bbb" stroke-width="1"/><circle cx="9" cy="31" r="3.6" fill="none" stroke="#aaa" stroke-width="1"/><circle cx="18" cy="34" r="3.6" fill="none" stroke="#777" stroke-width="1"/><circle cx="38" cy="9" r="3.6" fill="none" stroke="#bbb" stroke-width="1"/><circle cx="46" cy="12" r="3.6" fill="none" stroke="#777" stroke-width="1"/><circle cx="46" cy="17" r="3.6" fill="none" stroke="#aaa" stroke-width="1"/><circle cx="37" cy="26" r="3.6" fill="none" stroke="#999" stroke-width="1"/><circle cx="46" cy="30" r="3.6" fill="none" stroke="#8fc0d8" stroke-width="1"/></g><rect x="1715.6" y="296.5" width="56.5" height="42.5" fill="#fff" stroke="#ececec" stroke-width="1"/><g transform="translate(1715.1,296)"><path d="M6 12 L12 8 L18 16 L26 10 L33 16 L40 21 L51 15" fill="none" stroke="#f8c87c" stroke-width="1.4"/><path d="M6 19 L14 21 L20 14 L30 19 L42 27 L51 25" fill="none" stroke="#fbd9a5" stroke-width="1.3"/><path d="M6 26 L13 32 L28 24 L40 32 L51 29" fill="none" stroke="#a8a8a8" stroke-width="1.6"/></g><rect x="1778.9" y="296.5" width="56.5" height="42.5" fill="#fff" stroke="#ececec" stroke-width="1"/><g transform="translate(1778.4,296)"><path d="M28.5 3 L28.5 40" stroke="#e4e4e4"/><path d="M4 18 L10 20 L17 12 L24 13 M31 14 L37 10 L43 14 L52 13" fill="none" stroke="#f8c87c" stroke-width="1.3"/><path d="M4 22 L12 21 L22 22 M31 22 L40 23 L52 20" fill="none" stroke="#fbd9a5" stroke-width="1.2"/><path d="M4 32 L10 33 L16 29 L24 29 M31 33 L38 30 L44 32 L52 30" fill="none" stroke="#a8a8a8" stroke-width="1.5"/></g><rect x="1841.6" y="296.5" width="56.5" height="42.5" fill="#fff" stroke="#ececec" stroke-width="1"/><g transform="translate(1841.1,296)"><path d="M9 15 L17 8 L25 15 L31 11 L40 17 L48 12" fill="none" stroke="#f8c87c" stroke-width="1.5"/><path d="M9 23 L17 20 L25 29 L31 25 L40 30 L48 23" fill="none" stroke="#a0a0a0" stroke-width="1.6"/><path d="M53 9 L53 38" stroke="#e8e8e8" stroke-dasharray="1 2"/></g><rect x="1715.6" y="349.0" width="56.5" height="42.5" fill="#fff" stroke="#ececec" stroke-width="1"/><g transform="translate(1715.1,348.5)"><path d="M4 37 L4 22 L15 11 L27 18 L37 24 L52 17 L52 37 Z" fill="#fde3bb"/><path d="M4 30 L4 22 L15 11 L27 18 L37 24 L52 17 L52 27 L37 32 L27 28 L15 22 Z" fill="#f6c48e"/><path d="M4 22 L15 11 L27 18 L37 24 L52 17 L52 22 L37 29 L27 25 L15 18 L4 27 Z" fill="#86b9b6"/><path d="M4 22 L15 11 L27 18 L37 24 L52 17" fill="none" stroke="#a0a0a0" stroke-width="1"/></g><rect x="1778.9" y="349.0" width="56.5" height="42.5" fill="#fff" stroke="#ececec" stroke-width="1"/><g transform="translate(1778.4,348.5)"><path d="M4 37 L4 19 L10 8 L17 20 L25 15 L25 37 Z M28 37 L28 17 L34 8 L42 21 L51 14 L51 37 Z" fill="#fde3bb"/><path d="M4 27 L4 19 L10 8 L17 20 L25 15 L25 25 L17 30 L10 22 Z M28 27 L28 17 L34 8 L42 21 L51 14 L51 24 L42 31 L34 21 Z" fill="#f6c48e"/><path d="M4 19 L10 8 L17 20 L25 15 L25 20 L17 26 L10 15 L4 24 Z M28 17 L34 8 L42 21 L51 14 L51 19 L42 27 L34 14 L28 22 Z" fill="#86b9b6"/></g><rect x="1841.6" y="349.0" width="56.5" height="42.5" fill="#fff" stroke="#ececec" stroke-width="1"/><g transform="translate(1841.1,348.5)"><path d="M8 17 L14 11 L20 18 L26 13 L31 16" fill="none" stroke="#f8c87c" stroke-width="1.3"/><rect x="9" y="20" width="5" height="17" fill="#8ab8b8"/><rect x="17" y="16" width="5" height="21" fill="#8ab8b8"/><rect x="25" y="23" width="5" height="14" fill="#8ab8b8"/><rect x="33" y="10" width="5" height="27" fill="#8ab8b8"/><rect x="33" y="10" width="5" height="9" fill="#a8a8a8"/><rect x="41" y="19" width="5" height="18" fill="#8ab8b8"/><path d="M52 9 L52 38" stroke="#e8e8e8" stroke-dasharray="1 2"/></g><rect x="1715.6" y="402.1" width="56.5" height="42.5" fill="#fff" stroke="#ececec" stroke-width="1"/><g transform="translate(1715.1,401.6)"><circle cx="22.6" cy="13.1" r="3.4" fill="none" stroke="#f3c08a" stroke-width="1" stroke-dasharray="1.2 0.8"/><circle cx="14.4" cy="22.9" r="3.4" fill="none" stroke="#f3c08a" stroke-width="1" stroke-dasharray="1.2 0.8"/><circle cx="25.9" cy="27" r="3.4" fill="none" stroke="#f3c08a" stroke-width="1" stroke-dasharray="1.2 0.8"/><circle cx="43.9" cy="14.8" r="3.4" fill="none" stroke="#f3c08a" stroke-width="1" stroke-dasharray="1.2 0.8"/><circle cx="8.7" cy="35.2" r="3.4" fill="none" stroke="#f3c08a" stroke-width="1" stroke-dasharray="1.2 0.8"/><path d="M32.6 8.2 L40.6 8.2 M36.6 4.199999999999999 L36.6 12.2" stroke="#999" stroke-width="1"/><path d="M28.5 19.7 L36.5 19.7 M32.5 15.7 L32.5 23.7" stroke="#999" stroke-width="1"/><path d="M14.5 32.8 L22.5 32.8 M18.5 28.799999999999997 L18.5 36.8" stroke="#aaa" stroke-width="1"/><path d="M32.6 32 L40.6 32 M36.6 28 L36.6 36" stroke="#999" stroke-width="1"/><path d="M43.2 25.4 L51.2 25.4 M47.2 21.4 L47.2 29.4" stroke="#7fb8b0" stroke-width="1"/></g><rect x="1778.9" y="402.1" width="56.5" height="42.5" fill="#fff" stroke="#ececec" stroke-width="1"/><g transform="translate(1778.4,401.6)"><rect x="10" y="35" width="3.3" height="2" fill="#8ebfbc"/><rect x="14" y="31" width="3.3" height="6" fill="#8ebfbc"/><rect x="18" y="21" width="3.3" height="16" fill="#8ebfbc"/><rect x="22" y="12" width="3.3" height="25" fill="#8ebfbc"/><rect x="26" y="9" width="3.3" height="28" fill="#8ebfbc"/><rect x="30" y="12" width="3.3" height="25" fill="#8ebfbc"/><rect x="34" y="21" width="3.3" height="16" fill="#8ebfbc"/><rect x="38" y="30" width="3.3" height="7" fill="#8ebfbc"/><rect x="42" y="34" width="3.3" height="3" fill="#8ebfbc"/></g><rect x="1841.6" y="402.1" width="56.5" height="42.5" fill="#fff" stroke="#8d8d8d" stroke-width="1.3"/><g transform="translate(1841.1,401.6)"><rect x="8" y="18" width="6" height="11" fill="#a6d2c8"/><path d="M11 11 L11 34 M8.5 11 L13.5 11 M8.5 34 L13.5 34" stroke="#666" stroke-width="1.1"/><rect x="20" y="15" width="6" height="12" fill="#a6d2c8"/><path d="M23 9 L23 36 M20.5 9 L25.5 9 M20.5 36 L25.5 36" stroke="#666" stroke-width="1.1"/><rect x="32" y="16" width="6" height="14" fill="#a6d2c8"/><path d="M35 8 L35 37 M32.5 8 L37.5 8 M32.5 37 L37.5 37" stroke="#666" stroke-width="1.1"/><rect x="44" y="11" width="6" height="16" fill="#a6d2c8"/><path d="M47 6 L47 37 M44.5 6 L49.5 6 M44.5 37 L49.5 37" stroke="#666" stroke-width="1.1"/></g><rect x="1715.6" y="455.5" width="56.5" height="42.5" fill="#fff" stroke="#ececec" stroke-width="1"/><g transform="translate(1715.1,455)"><rect x="9" y="6" width="8" height="7" fill="#8ebfbc"/><rect x="23" y="6" width="3" height="7" fill="#f6c48e"/><rect x="31" y="6" width="1.5" height="7" fill="#f6c48e"/><rect x="37" y="6" width="6" height="7" fill="#f8d4a6"/><rect x="9" y="16" width="5" height="7" fill="#d0d0d0"/><rect x="21" y="16" width="3" height="7" fill="#8ebfbc"/><rect x="29" y="16" width="10" height="7" fill="#c6e2dc"/><rect x="45" y="16" width="5" height="7" fill="#e8a660"/><rect x="9" y="27" width="2" height="7" fill="#8ebfbc"/><rect x="14" y="27" width="6" height="7" fill="#f8d4a6"/><rect x="22" y="27" width="2" height="7" fill="#f6c48e"/><rect x="26" y="27" width="4" height="7" fill="#d8d8d8"/><rect x="34" y="27" width="6" height="7" fill="#8ebfbc"/><rect x="48" y="27" width="2" height="7" fill="#f6c48e"/></g><rect x="1778.9" y="455.5" width="56.5" height="42.5" fill="#fff" stroke="#ececec" stroke-width="1"/><g transform="translate(1778.4,455)"><rect x="6" y="7" width="46" height="5" fill="#f2f2f2"/><rect x="6" y="8" width="27" height="3.5" fill="#8ebfbc"/><path d="M30 6 L30 13" stroke="#555" stroke-width="1"/><rect x="6" y="16" width="46" height="5" fill="#f2f2f2"/><rect x="6" y="17" width="40" height="3.5" fill="#8ebfbc"/><path d="M38 15 L38 22" stroke="#555" stroke-width="1"/><rect x="6" y="26" width="46" height="5" fill="#f2f2f2"/><rect x="6" y="27" width="22" height="3.5" fill="#8ebfbc"/><path d="M45 25 L45 32" stroke="#555" stroke-width="1"/></g><rect x="1841.6" y="455.5" width="56.5" height="42.5" fill="#fff" stroke="#8d8d8d" stroke-width="1.3"/><g transform="translate(1841.1,455)"><circle cx="16" cy="28" r="9.5" fill="#bfe3d6"/><circle cx="16" cy="11" r="3" fill="#8ebfbc"/><circle cx="25" cy="8" r="4" fill="#8ebfbc"/><circle cx="31" cy="11" r="2.3" fill="#c6e6da"/><circle cx="31" cy="19" r="4.5" fill="#fcd9ad"/><circle cx="40" cy="13" r="5" fill="#fcd9ad"/><circle cx="36" cy="23" r="3" fill="#e8a660"/><circle cx="29" cy="33" r="3.5" fill="#7dbcad"/><circle cx="22" cy="22" r="2" fill="#fcd9ad"/></g><rect x="1712.3" y="508.2" width="56" height="42" fill="#fff" stroke="#e6e6e6"/><g transform="translate(1711.8,507.7)"><path d="M8 13 Q20 9 31 13 L31 31 Q20 27 8 32 Z" fill="#cfe3ee"/><path d="M9 20 Q20 15 31 18 L31 25 Q20 22 9 28 Z" fill="#8fb0c6"/><path d="M12 24 Q20 21 30 22" stroke="#dbe9f1" stroke-width="1.5" fill="none"/><rect x="7.5" y="19" width="4" height="14" fill="#4e79a7"/><rect x="29" y="14" width="5" height="18" fill="#eda5a5"/><rect x="29" y="12" width="5" height="4" fill="#e15759"/><path d="M34.5 19.5 A8 8 0 0 1 36 5" fill="none" stroke="#1db38a" stroke-width="3.6"/><path d="M36 5 A8 8 0 0 1 44 11.5" fill="none" stroke="#eaa860" stroke-width="3.6"/><path d="M44 11.5 A8 8 0 0 1 37.5 20.5" fill="none" stroke="#1db38a" stroke-width="3.6"/><circle cx="37.5" cy="36" r="1.3" fill="#555"/><circle cx="42" cy="36" r="1.3" fill="#555"/><circle cx="46.5" cy="36" r="1.3" fill="#555"/></g><g fill="#555"><rect x="1713.5" y="591" width="1.6" height="1.6"/><rect x="1713.5" y="595" width="1.6" height="1.6"/><rect x="1713.5" y="599" width="1.6" height="1.6"/><rect x="1716.5" y="591.2" width="6.5" height="1.2"/><rect x="1716.5" y="595.2" width="6.5" height="1.2"/><rect x="1716.5" y="599.2" width="6.5" height="1.2"/></g><g fill="#555"><rect x="1713" y="617" width="1.4" height="7"/><rect x="1716" y="617" width="1.4" height="7"/><rect x="1719" y="617" width="1.4" height="7"/><rect x="1722" y="617" width="1.4" height="7"/><rect x="1713" y="614.5" width="1.4" height="1.4"/><rect x="1716" y="614.5" width="1.4" height="1.4"/><rect x="1719" y="614.5" width="1.4" height="1.4"/><rect x="1722" y="614.5" width="1.4" height="1.4"/></g><circle cx="1716.5" cy="640.5" r="2.8" fill="#7d7d7d"/><circle cx="1723.5" cy="640.5" r="2.8" fill="#e97f7f"/><circle cx="1716.5" cy="647.5" r="2.8" fill="#f0a070"/><circle cx="1723.5" cy="647.5" r="2.8" fill="#6fa0c0"/></svg><div class="t" style="left:1711.8px;top:567.52px;font-size:11.5px;color:#444;">For side-by-side bars use:</div><div class="a" style="left:1733.7px;top:586.3px;width:68.7px;height:19.2px;border-radius:10px;background:#19b383"></div><div class="a" style="left:1733.7px;top:611px;width:80px;height:19.2px;border-radius:10px;background:#4f9fb8"></div><div class="a" style="left:1733.7px;top:634.8px;width:80px;height:19.2px;border-radius:10px;background:#4f9fb8"></div><div class="t" style="left:1744.5px;top:590.35px;font-size:12.4px;color:#fff;-webkit-text-stroke:0.35px #fff">Measure</div><div class="t" style="left:1744.5px;top:614.85px;font-size:12.6px;color:#fff;-webkit-text-stroke:0.35px #fff">Dimension</div><div class="t" style="left:1744.5px;top:638.65px;font-size:12.6px;color:#fff;-webkit-text-stroke:0.35px #fff">Dimension</div><div class="a" style="left:1739.8px;top:664.6px;width:133.5px;height:23.4px;border:1px solid #909090;border-radius:2px;background:#fff"></div><div class="t" style="left:1765.5px;top:670.20px;font-size:12.7px;color:#333;">Choose for me</div><div class="a" style="left:0;top:977px;width:1920px;height:30px;background:#e8e8e8;border-top:1px solid #d6d6d6"></div><div class="a" style="left:130px;top:977px;width:58.3px;height:30px;background:#f8f8f8;border-left:1px solid #d6d6d6;border-right:1px solid #d6d6d6"></div><div class="a" style="left:245.3px;top:978px;width:1px;height:18px;background:#cfcfcf"></div><div class="a" style="left:277.3px;top:978px;width:1px;height:29px;background:#d2d2d2"></div><div class="a" style="left:309px;top:978px;width:1px;height:29px;background:#d2d2d2"></div><div class="a" style="left:341.4px;top:978px;width:1px;height:29px;background:#d2d2d2"></div><div class="t" style="left:24.2px;top:986.66px;font-size:12.2px;color:#6a6a6a;">Data Source</div><div class="t" style="left:137.5px;top:985.84px;font-size:12.8px;color:#555;-webkit-text-stroke:0.4px #555">Sheet 3</div><div class="t" style="left:194.3px;top:986.50px;font-size:12.5px;color:#777;">Sheet 4</div><svg style="left:0;top:0" width="400" height="1007" viewBox="0 0 400 1007"><g fill="none" stroke="#777" stroke-width="1"><ellipse cx="13.5" cy="987.5" rx="3.8" ry="1.5"/><path d="M9.7 987.5 L9.7 996 Q9.7 997.5 13.5 997.5 Q17.3 997.5 17.3 996 L17.3 987.5"/></g><rect x="254.5" y="985.5" width="12" height="11" fill="none" stroke="#777" stroke-width="1"/><path d="M258 994 L258 991 M260.5 994 L260.5 988.5 M263 994 L263 990" stroke="#777" stroke-width="1.1"/><path d="M263.9 996.5 L270.5 996.5 M267.2 993.2 L267.2 999.8" stroke="#666" stroke-width="1.8"/><path d="M286 985.5 L298 985.5 L298 992 M286 985.5 L286 996.5 L293 996.5 M286 991 L298 991 M292 985.5 L292 996.5" fill="none" stroke="#777" stroke-width="1"/><path d="M295.2 997 L301.8 997 M298.5 993.7 L298.5 1000.3" stroke="#666" stroke-width="1.8"/><path d="M318 986 L322 988 L326.5 985.5 L326.5 992 M318 986 L318 996.5 L322 998 L325 996.5 M322 988 L322 998" fill="none" stroke="#777" stroke-width="1"/><path d="M327.0 997 L333.6 997 M330.3 993.7 L330.3 1000.3" stroke="#666" stroke-width="1.8"/></svg>
</body></html>
